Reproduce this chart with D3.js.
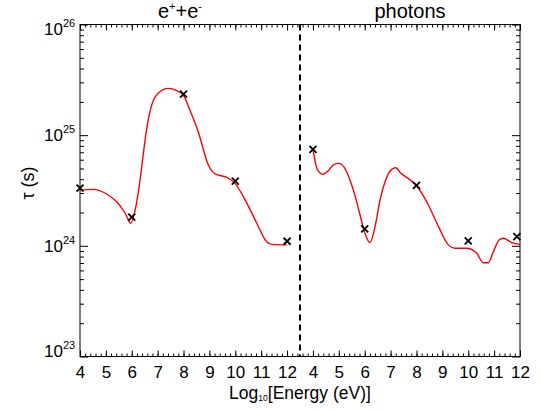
<!DOCTYPE html>
<html><head><meta charset="utf-8">
<script src="https://cdn.jsdelivr.net/npm/d3@7"></script>
<style>
body{margin:0;background:#fff;}
svg{display:block;font-family:"Liberation Sans",Arial,Helvetica,sans-serif;}
</style></head>
<body><svg id="c" width="540" height="411"></svg>
<script>
// ---- data ----
const panelTitles = ["e", "photons"];
const panelOffset = [0, 9];          // right panel drawn on the shared axis shifted by 9 units
const xTickValues = [4, 5, 6, 7, 8, 9, 10, 11, 12];
const xTickLabels = ["4", "5", "6", "7", "8", "9", "10", "11", "12"];
const yTickExponents = [23, 24, 25, 26];

const leftCurveX = [4.0, 4.51, 5.03, 5.42, 5.74, 5.96, 6.13, 6.32, 6.45, 6.58, 6.77, 7.02, 7.41, 7.74, 7.99, 8.25, 8.57, 8.96, 9.22, 9.67, 9.99, 10.45, 10.83, 11.21, 11.41, 11.99];
const leftCurveY = [3.19e24, 3.24e24, 2.94e24, 2.50e24, 1.98e24, 1.60e24, 2.10e24, 3.93e24, 6.89e24, 1.16e25, 1.87e25, 2.39e25, 2.65e25, 2.52e25, 2.30e25, 1.68e25, 1.07e25, 5.37e24, 4.46e24, 4.16e24, 3.67e24, 2.42e24, 1.60e24, 1.09e24, 1.03e24, 1.02e24];
const leftMarkX = [4, 6, 8, 10, 12];
const leftMarkY = [3.33e24, 1.82e24, 2.35e25, 3.85e24, 1.10e24];

const rightCurveX = [4.0, 4.18, 4.40, 4.59, 4.82, 4.98, 5.21, 5.43, 5.62, 5.82, 6.01, 6.20, 6.40, 6.59, 6.81, 7.04, 7.20, 7.40, 7.68, 8.01, 8.46, 8.85, 9.23, 9.49, 9.94, 10.33, 10.58, 10.77, 10.97, 11.19, 11.35, 11.68, 12.0];
const rightCurveY = [7.45e24, 4.84e24, 4.43e24, 4.76e24, 5.45e24, 5.56e24, 5.12e24, 3.93e24, 2.87e24, 1.90e24, 1.30e24, 1.07e24, 1.49e24, 2.59e24, 3.93e24, 4.91e24, 5.08e24, 4.52e24, 4.07e24, 3.47e24, 2.34e24, 1.49e24, 1.02e24, 9.5e23, 9.5e23, 8.55e23, 7.03e23, 7.03e23, 8.85e23, 1.13e24, 1.17e24, 1.07e24, 1.03e24];
const rightMarkX = [4, 6, 8, 10, 11.88];
const rightMarkY = [7.45e24, 1.42e24, 3.52e24, 1.11e24, 1.21e24];

// ---- layout ----
const L = 80, R = 520, T = 24.5, B = 356.5;
const svg = d3.select("#c");
const x = d3.scaleLinear().domain([4, 21]).range([L, R]);
const y = d3.scaleLog().domain([1e23, 1e26]).range([B, T]);

const allMajor = xTickValues.concat(xTickValues.map(v => v + panelOffset[1]));
const allLabels = xTickLabels.concat(xTickLabels);
const minorX = d3.range(4, 21.0001, 0.2).map(v => +v.toFixed(2));

const majY = yTickExponents.map(e => Math.pow(10, e));
const minY = [];
for (let e = 23; e < 26; e++) for (let m = 2; m <= 9; m++) minY.push(m * Math.pow(10, e));

function styleAxis(g) {
  g.select(".domain").remove();
  g.selectAll("line").attr("stroke", "#000").attr("stroke-width", 1);
}

// bottom axis
svg.append("g").attr("transform", `translate(0,${B})`)
  .call(d3.axisBottom(x).tickValues(minorX).tickSize(-3).tickFormat(""))
  .call(styleAxis);
svg.append("g").attr("transform", `translate(0,${B})`)
  .call(d3.axisBottom(x).tickValues(allMajor).tickSize(-6).tickPadding(9)
    .tickFormat((d, i) => allLabels[i]))
  .call(styleAxis)
  .call(g => g.selectAll("text").attr("font-size", 17).attr("fill", "#000")
    .attr("font-family", "Liberation Sans, Arial, sans-serif"));
// top axis
svg.append("g").attr("transform", `translate(0,${T})`)
  .call(d3.axisTop(x).tickValues(minorX).tickSize(-3).tickFormat(""))
  .call(styleAxis);
svg.append("g").attr("transform", `translate(0,${T})`)
  .call(d3.axisTop(x).tickValues(allMajor).tickSize(-6).tickFormat(""))
  .call(styleAxis);
// left axis
svg.append("g").attr("transform", `translate(${L},0)`)
  .call(d3.axisLeft(y).tickValues(minY).tickSize(-4).tickFormat(""))
  .call(styleAxis);
svg.append("g").attr("transform", `translate(${L},0)`)
  .call(d3.axisLeft(y).tickValues(majY).tickSize(-8).tickFormat(""))
  .call(styleAxis);
// right axis
svg.append("g").attr("transform", `translate(${R},0)`)
  .call(d3.axisRight(y).tickValues(minY).tickSize(-4).tickFormat(""))
  .call(styleAxis);
svg.append("g").attr("transform", `translate(${R},0)`)
  .call(d3.axisRight(y).tickValues(majY).tickSize(-8).tickFormat(""))
  .call(styleAxis);

// frame
svg.append("rect").attr("x", L).attr("y", T).attr("width", R - L).attr("height", B - T)
  .attr("fill", "none").attr("stroke", "#000").attr("stroke-width", 1);

// y tick labels (10^n)
yTickExponents.forEach((e, i) => {
  let yy = y(Math.pow(10, e)) + 6;
  if (i === 0) yy = B;
  if (i === yTickExponents.length - 1) yy = T + 10.5;
  const t = svg.append("text").attr("x", 44).attr("y", yy).attr("font-size", 17).attr("fill", "#000");
  t.append("tspan").text("10");
  t.append("tspan").attr("font-size", 11).attr("dy", -8).text(String(e));
});

// dashed separator
svg.append("line").attr("x1", x(12.5)).attr("x2", x(12.5)).attr("y1", T).attr("y2", B)
  .attr("stroke", "#000").attr("stroke-width", 2).attr("stroke-dasharray", "6,4");

// curves
const line = d3.line().x(d => x(d[0])).y(d => y(d[1])).curve(d3.curveMonotoneX);
const leftData = leftCurveX.map((v, i) => [v + panelOffset[0], leftCurveY[i]]);
const rightData = rightCurveX.map((v, i) => [v + panelOffset[1], rightCurveY[i]]);
[leftData, rightData].forEach(d => {
  svg.append("path").attr("d", line(d)).attr("fill", "none")
    .attr("stroke", "#ff0000").attr("stroke-width", 1.4);
});

// markers
const marks = leftMarkX.map((v, i) => [v + panelOffset[0], leftMarkY[i]])
  .concat(rightMarkX.map((v, i) => [v + panelOffset[1], rightMarkY[i]]));
const s = 3.5;
marks.forEach(d => {
  const cx = x(d[0]), cy = y(d[1]);
  svg.append("path")
    .attr("d", `M${cx - s},${cy - s}L${cx + s},${cy + s}M${cx - s},${cy + s}L${cx + s},${cy - s}`)
    .attr("stroke", "#000").attr("stroke-width", 1.8).attr("fill", "none");
});

// titles
const t1 = svg.append("text").attr("x", 180).attr("y", 18).attr("text-anchor", "middle")
  .attr("font-size", 20).attr("fill", "#000");
t1.append("tspan").text(panelTitles[0]);
t1.append("tspan").attr("font-size", 11).attr("dy", -8).text("+");
t1.append("tspan").attr("dy", 8).text("+e");
t1.append("tspan").attr("font-size", 11).attr("dy", -8).text("-");
svg.append("text").attr("x", 410).attr("y", 18).attr("text-anchor", "middle")
  .attr("font-size", 20).attr("fill", "#000").text(panelTitles[1]);

// x label
const xl = svg.append("text").attr("x", 300).attr("y", 399).attr("text-anchor", "middle")
  .attr("font-size", 17.5).attr("fill", "#000");
xl.append("tspan").text("Log");
xl.append("tspan").attr("font-size", 8.5).attr("dy", 2).text("10");
xl.append("tspan").attr("dy", -2).text("[Energy (eV)]");

// y label
svg.append("text").attr("transform", "translate(34,183) rotate(-90)").attr("text-anchor", "middle")
  .attr("font-size", 18).attr("fill", "#000").text("τ (s)");
</script></body></html>
